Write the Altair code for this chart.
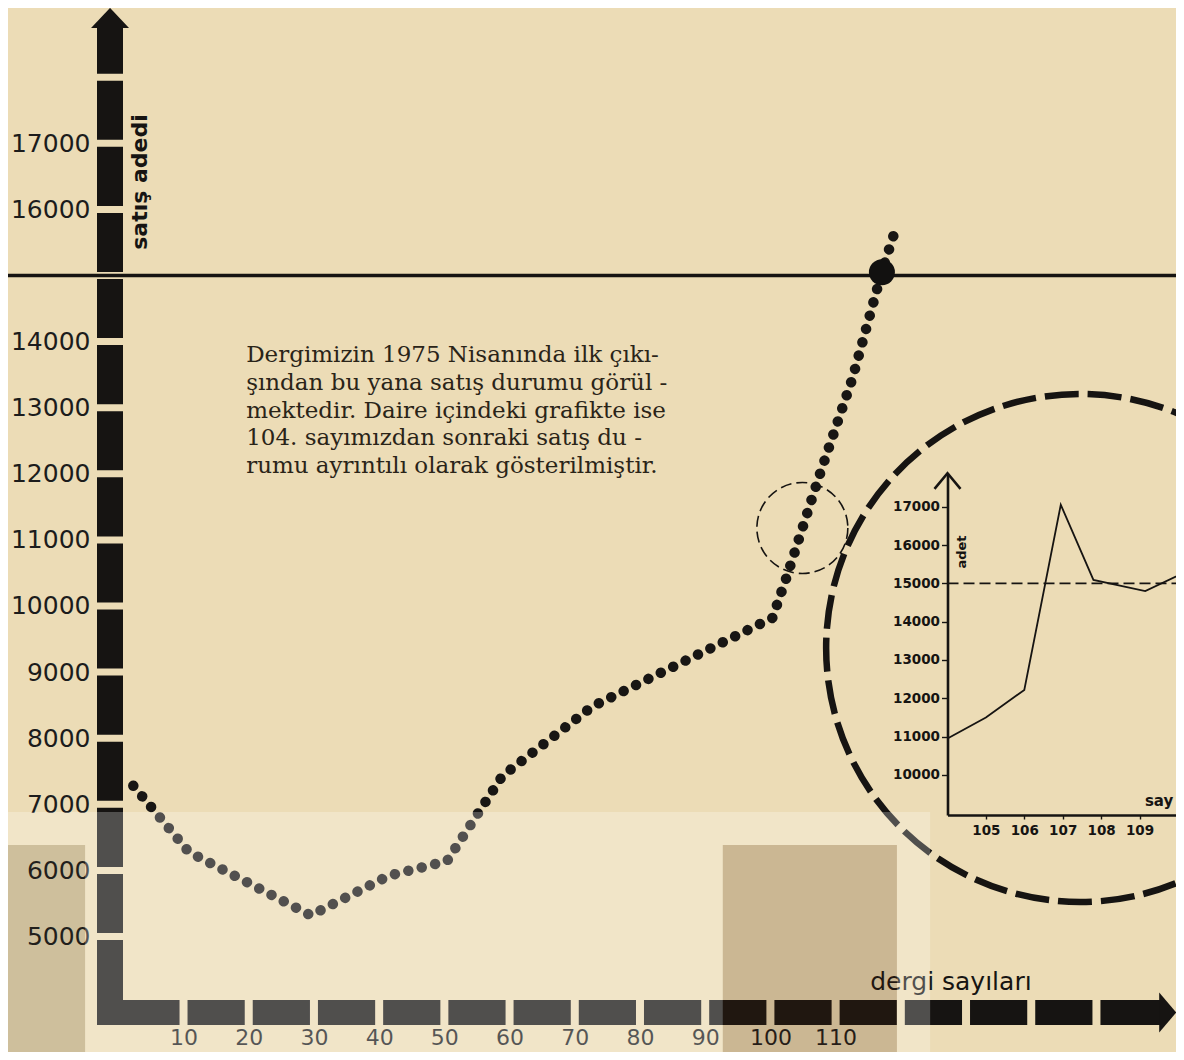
import altair as alt
import pandas as pd

# ---------------- data ----------------
# main dotted sales curve (vertices of the hand-drawn path)
curve_issue = [2.3, 10.8, 29.5, 41.5, 50.4, 58.9, 72.7, 100.3, 102.5, 107.4, 112.6, 117.1, 118.9]
curve_sales = [7280, 6280, 5320, 5920, 6140, 7430, 8480, 9820, 10440, 11940, 13450, 15060, 15610]

target_sales = 15000
crossing_issue = [117.1]
crossing_sales = [15050]

# inset (detail after issue 104)
inset_issue = [104, 105, 106, 106.95, 107.8, 109.15, 110.4]
inset_sales = [10950, 11500, 12220, 17050, 15090, 14800, 15390]

x_tick_values = [10, 20, 30, 40, 50, 60, 70, 80, 90, 100, 110]
y_tick_values = [5000, 6000, 7000, 8000, 9000, 10000, 11000, 12000, 13000, 14000, 16000, 17000]
inset_x_ticks = [105, 106, 107, 108, 109]
inset_y_ticks = [10000, 11000, 12000, 13000, 14000, 15000, 16000, 17000]

y_title = "satış adedi"
x_title = "dergi sayıları"
inset_y_title = "adet"
inset_x_title = "say"
note_lines = [
    "Dergimizin 1975 Nisanında ilk çıkı-",
    "şından bu yana satış durumu görül -",
    "mektedir. Daire içindeki grafikte ise",
    "104. sayımızdan sonraki  satış du -",
    "rumu ayrıntılı olarak gösterilmiştir.",
]

# ---------------- layout / style ----------------
W, H = 1079, 1017
X_DOM = [-3.27, 162.2]
Y_DOM = [3661, 19047]
PX_X = (X_DOM[1] - X_DOM[0]) / W
PX_Y = (Y_DOM[1] - Y_DOM[0]) / H

INSET_X_DOM = [104, 111]
INSET_X_RANGE = [850.5, 850.5 + 7 * 38.4]
INSET_Y_DOM = [8956, 17871]
INSET_Y_RANGE = [807, 465.3]

SANS = "DejaVu Sans"
SERIF = "DejaVu Serif"
INK = "#161412"
PAPER = "#ecdcb6"


def sym(radius_px):
    # vega symbol size -> radius = sqrt(size)/2
    return (2 * radius_px) ** 2


def xs():
    return alt.Scale(domain=X_DOM, nice=False, zero=False)


def ys():
    return alt.Scale(domain=Y_DOM, nice=False, zero=False)


def ixs():
    return alt.Scale(domain=INSET_X_DOM, range=INSET_X_RANGE, nice=False, zero=False)


def iys():
    return alt.Scale(domain=INSET_Y_DOM, range=INSET_Y_RANGE, nice=False, zero=False)


def mx(f, axis=None):
    return alt.X(f, type="quantitative", scale=xs(), axis=axis)


def my(f, axis=None):
    return alt.Y(f, type="quantitative", scale=ys(), axis=axis)


def ix(f, axis=None):
    return alt.X(f, type="quantitative", scale=ixs(), axis=axis)


def iy(f, axis=None):
    return alt.Y(f, type="quantitative", scale=iys(), axis=axis)


# ---- segmented y axis bar (breaks at every 1000) ----
bar_x0, bar_x1 = X_DOM[0], X_DOM[0] + 26 * PX_X
gy = 3.5 * PX_Y
ybreaks = list(range(5000, 18001, 1000))
yseg = [(Y_DOM[0], ybreaks[0] - gy)]
for a, b in zip(ybreaks[:-1], ybreaks[1:]):
    yseg.append((a + gy, b - gy))
yseg.append((ybreaks[-1] + gy, 18744))
ybar_df = pd.DataFrame({"x0": bar_x0, "x1": bar_x1,
                        "y0": [s[0] for s in yseg], "y1": [s[1] for s in yseg]})

# ---- segmented x axis bar (breaks at every 10 issues) ----
gx = 4 * PX_X
xbreaks = list(range(10, 151, 10))
xseg = [(X_DOM[0], xbreaks[0] - gx)]
for a, b in zip(xbreaks[:-1], xbreaks[1:]):
    xseg.append((a + gx, b - gx))
xseg.append((xbreaks[-1] + gx, 160.0))
xbar_df = pd.DataFrame({"x0": [s[0] for s in xseg], "x1": [s[1] for s in xseg],
                        "y0": Y_DOM[0], "y1": Y_DOM[0] + 25 * PX_Y})

xaxis = alt.Axis(values=x_tick_values, format="d", grid=False, domain=False, ticks=False,
                 labelFont=SANS, labelFontSize=22, labelColor="#1c1c1c", labelPadding=2,
                 labelFlush=False, labelOverlap=False, title=None)
yaxis = alt.Axis(values=y_tick_values, format="d", grid=False, domain=False, ticks=False,
                 labelFont=SANS, labelFontSize=25, labelColor="#1c1c1c", labelPadding=7,
                 labelOverlap=False, title=None)

ybar = alt.Chart(ybar_df).mark_rect(color=INK).encode(
    x=mx("x0", xaxis), x2="x1", y=my("y0", yaxis), y2="y1")
xbar = alt.Chart(xbar_df).mark_rect(color=INK).encode(x=mx("x0"), x2="x1", y=my("y0"), y2="y1")

yarrow = alt.Chart(pd.DataFrame({"x": [-1.27], "y": [18896]})).mark_point(
    shape="M0,-0.53L1,0.53L-1,0.53Z", size=1444, filled=True, color=INK, opacity=1
).encode(x=mx("x"), y=my("y"))
xarrow = alt.Chart(pd.DataFrame({"x": [160.93], "y": [3850]})).mark_point(
    shape="M0.425,0L-0.425,-1L-0.425,1Z", size=1600, filled=True, color=INK, opacity=1
).encode(x=mx("x"), y=my("y"))

target_line = alt.Chart(pd.DataFrame({"x0": [-19.0], "x1": [X_DOM[1]], "y": [target_sales]})).mark_rule(
    color=INK, strokeWidth=3.5).encode(x=mx("x0"), x2="x1", y=my("y"))

big_circle = alt.Chart(pd.DataFrame({"x": [147.5], "y": [9365]})).mark_point(
    shape="circle", size=sym(254), filled=False, color=INK, strokeWidth=6.5,
    strokeDash=[34, 9], opacity=1).encode(x=mx("x"), y=my("y"))
small_circle = alt.Chart(pd.DataFrame({"x": [104.9], "y": [11180]})).mark_point(
    shape="circle", size=sym(45.5), filled=False, color=INK, strokeWidth=1.6,
    strokeDash=[11, 5], opacity=1).encode(x=mx("x"), y=my("y"))

note = alt.Chart(pd.DataFrame({"x": [19.6], "y": [13691], "t": ["\n".join(note_lines)]})).mark_text(
    align="left", baseline="alphabetic", font=SERIF, fontSize=23, lineHeight=27.8,
    lineBreak="\n", color="#2a2418").encode(x=mx("x"), y=my("y"), text="t:N")

ytitle = alt.Chart(pd.DataFrame({"x": [3.3], "y": [16415], "t": [y_title]})).mark_text(
    angle=270, align="center", baseline="middle", font=SANS, fontSize=22, fontWeight="bold",
    color=INK).encode(x=mx("x"), y=my("y"), text="t:N")
xtitle = alt.Chart(pd.DataFrame({"x": [115.3], "y": [4191], "t": [x_title]})).mark_text(
    align="left", baseline="alphabetic", font=SANS, fontSize=25, color=INK
).encode(x=mx("x"), y=my("y"), text="t:N")

# ---------------- inset chart ----------------
ixaxis = alt.Axis(orient="bottom", offset=-210, values=inset_x_ticks, format="d", grid=False,
                  domainColor=INK, domainWidth=2.6, tickColor=INK, tickWidth=1.4, tickSize=4,
                  labelFont=SANS, labelFontWeight="bold", labelFontSize=13.5, labelColor=INK,
                  labelPadding=4, labelFlush=False, labelOverlap=False, title=None)
iyaxis = alt.Axis(orient="left", offset=-850.5, values=inset_y_ticks, format="d", grid=False,
                  domainColor=INK, domainWidth=2.6, tickColor=INK, tickWidth=1.4, tickSize=6,
                  labelFont=SANS, labelFontWeight="bold", labelFontSize=13.5, labelColor=INK,
                  labelPadding=2, labelOverlap=False, title=None)

inset_df = pd.DataFrame({"issue": inset_issue, "sales": inset_sales})
inset_line = alt.Chart(inset_df).mark_line(color=INK, strokeWidth=1.8).encode(
    x=ix("issue", ixaxis), y=iy("sales", iyaxis))
inset_ref = alt.Chart(pd.DataFrame({"x0": [INSET_X_DOM[0]], "x1": [INSET_X_DOM[1]], "y": [target_sales]})).mark_rule(
    color=INK, strokeWidth=1.6, strokeDash=[11, 5]).encode(x=ix("x0"), x2="x1", y=iy("y"))
inset_arrow = alt.Chart(pd.DataFrame({"x": [104], "y": [17668]})).mark_point(
    shape="M-1,0.6L0,-0.6L1,0.6", size=676, filled=False, color=INK, strokeWidth=2.6, opacity=1
).encode(x=ix("x"), y=iy("y"))
inset_ytitle = alt.Chart(pd.DataFrame({"x": [104.38], "y": [15818], "t": [inset_y_title]})).mark_text(
    angle=270, align="center", baseline="middle", font=SANS, fontWeight="bold", fontSize=13, color=INK
).encode(x=ix("x"), y=iy("y"), text="t:N")
inset_xtitle = alt.Chart(pd.DataFrame({"x": [109.88], "y": [9191], "t": [inset_x_title]})).mark_text(
    align="right", baseline="alphabetic", font=SANS, fontWeight="bold", fontSize=15, color=INK
).encode(x=ix("x"), y=iy("y"), text="t:N")

# ---------------- dotted curve, crossing point, paper overlays ----------------
curve_df = pd.DataFrame({"issue": curve_issue, "sales": curve_sales})
dots = alt.Chart(curve_df).mark_line(color="#181614", strokeWidth=10.5, strokeCap="round",
                                     strokeDash=[0.01, 13.8]).encode(x=mx("issue"), y=my("sales"))
big_dot = alt.Chart(pd.DataFrame({"x": crossing_issue, "y": crossing_sales})).mark_point(
    shape="circle", size=sym(13), filled=True, color="#121110", opacity=1
).encode(x=mx("x"), y=my("y"))

overlay_df = pd.DataFrame({
    "x0": [-19, -5.1, 119.4, -19, 92.7],
    "x1": [124.5, 92.7, 124.5, -5.1, 119.4],
    "y0": [6384, 3100, 3100, 3100, 3100],
    "y1": [6884, 6384, 6384, 6384, 6384],
    "c": ["#ffffff", "#ffffff", "#ffffff", "#3c321e", "#49210a"],
    "o": [0.25, 0.25, 0.25, 0.17, 0.2],
})
overlays = alt.Chart(overlay_df).mark_rect().encode(
    x=mx("x0"), x2="x1", y=my("y0"), y2="y1",
    color=alt.Color("c:N", scale=None), opacity=alt.Opacity("o:Q", scale=None))

chart = alt.layer(
    ybar, xbar, yarrow, xarrow, target_line, big_circle, small_circle, note, ytitle, xtitle,
    inset_line, inset_ref, inset_arrow, inset_ytitle, inset_xtitle,
    dots, big_dot, overlays,
).resolve_scale(
    x="independent", y="independent"
).properties(
    width=W, height=H,
    padding={"left": 89, "top": 0, "right": 0, "bottom": 27},
    autosize=alt.AutoSizeParams(type="none"),
    background=PAPER,
).configure_view(stroke=None)

chart.save("out.html", embed_options={"renderer": "svg", "actions": False})
